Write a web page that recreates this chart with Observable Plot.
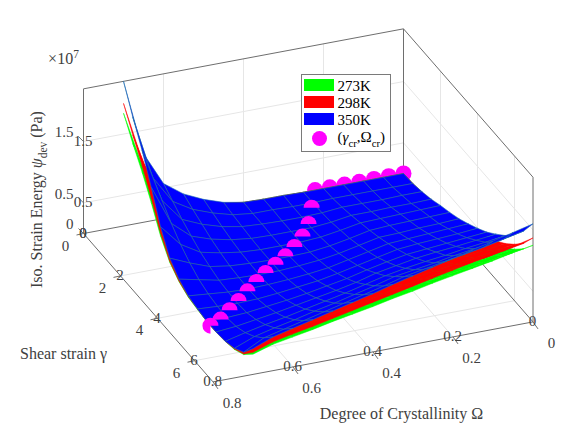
<!DOCTYPE html>
<html><head><meta charset="utf-8">
<style>html,body{margin:0;padding:0;background:#fff}svg{display:block}</style>
<script src="https://cdn.jsdelivr.net/npm/d3@7"></script>
<script src="https://cdn.jsdelivr.net/npm/@observablehq/plot@0.6"></script>
</head><body><div id="chart"></div>
<script>
// Shear strain (rows) and crystallinity (columns) of the surface grid
const gammaGrid = [0,.5,1,1.5,2,2.5,3,3.5,4,4.5,5,5.5,6,6.5,7];
const omegaGrid = [0,.05,.1,.15,.2,.25,.3,.35,.4,.45,.5,.55,.6,.65,.7];
// Iso. strain energy (×10^7 Pa)
const psi350 = [
[0,0,0,0,0,0,.01,.01,.02,.08,.19,.34,.57,1.12,2.36],
[.01,.01,.01,.01,.01,0,0,.01,.01,.05,.14,.26,.45,.9,1.95],
[.05,.05,.04,.04,.04,.01,0,0,.01,.03,.09,.19,.33,.7,1.58],
[.1,.09,.09,.08,.08,.03,0,0,0,.01,.05,.12,.23,.5,1.15],
[.17,.16,.15,.14,.13,.07,.02,0,0,0,.02,.07,.14,.33,.68],
[.23,.22,.21,.2,.18,.11,.05,.01,0,0,.01,.03,.08,.2,.34],
[.3,.28,.27,.25,.24,.17,.1,.05,.02,0,0,.01,.03,.1,.17],
[.39,.37,.35,.33,.31,.24,.17,.1,.06,.03,.01,0,.01,.04,.07],
[.49,.46,.44,.42,.39,.32,.25,.18,.12,.08,.04,.01,0,.01,.03],
[.6,.57,.54,.51,.48,.42,.35,.27,.21,.15,.1,.06,.02,0,0],
[.74,.7,.66,.63,.59,.53,.47,.38,.31,.25,.19,.13,.08,.03,0],
[.89,.84,.8,.75,.71,.66,.6,.52,.44,.37,.3,.23,.17,.1,.02],
[1.08,1.02,.97,.92,.86,.81,.76,.67,.59,.51,.44,.36,.29,.21,.08],
[1.31,1.24,1.17,1.11,1.05,.99,.93,.84,.76,.68,.6,.52,.44,.36,.19],
[1.6,1.52,1.44,1.36,1.28,1.2,1.12,1.04,.95,.87,.79,.71,.63,.55,.42]];
const psi298 = [
[0,0,0,0,0,0,.01,.01,.02,.07,.16,.29,.49,.95,2.0],
[.01,.01,.01,.01,.01,0,0,.01,.01,.04,.12,.22,.38,.77,1.66],
[.04,.04,.03,.03,.03,.01,0,0,.01,.03,.08,.16,.28,.6,1.34],
[.09,.08,.08,.07,.07,.03,0,0,0,.01,.04,.1,.2,.43,.98],
[.14,.14,.13,.12,.11,.06,.02,0,0,0,.02,.06,.12,.28,.58],
[.2,.19,.18,.17,.15,.09,.04,.01,0,0,.01,.03,.07,.17,.29],
[.26,.24,.23,.21,.2,.14,.09,.04,.02,0,0,.01,.03,.09,.14],
[.33,.31,.3,.28,.26,.2,.14,.09,.05,.03,.01,0,.01,.03,.06],
[.42,.39,.37,.36,.33,.27,.21,.15,.1,.07,.03,.01,0,.01,.03],
[.51,.48,.46,.43,.41,.36,.3,.23,.18,.13,.09,.05,.02,0,0],
[.63,.6,.56,.54,.5,.45,.4,.32,.26,.21,.16,.11,.07,.03,0],
[.76,.71,.68,.64,.6,.56,.51,.44,.37,.31,.26,.2,.14,.09,.02],
[.92,.87,.82,.78,.73,.69,.65,.57,.5,.43,.37,.31,.25,.18,.07],
[1.11,1.05,.99,.94,.89,.84,.79,.71,.65,.58,.51,.44,.37,.31,.16],
[1.37,1.29,1.22,1.16,1.09,1.02,.95,.88,.81,.74,.67,.6,.54,.47,.36]];
const psi273 = [
[0,0,0,0,0,0,.01,.01,.02,.06,.15,.27,.44,.87,1.84],
[.01,.01,.01,.01,.01,0,0,.01,.01,.04,.11,.2,.35,.7,1.52],
[.04,.04,.03,.03,.03,.01,0,0,.01,.02,.07,.15,.26,.55,1.23],
[.08,.07,.07,.06,.06,.02,0,0,0,.01,.04,.09,.18,.39,.9],
[.13,.12,.12,.11,.1,.05,.02,0,0,0,.02,.05,.11,.26,.53],
[.18,.17,.16,.16,.14,.09,.04,.01,0,0,.01,.02,.06,.16,.27],
[.23,.22,.21,.2,.19,.13,.08,.04,.02,0,0,.01,.02,.08,.13],
[.3,.29,.27,.26,.24,.19,.13,.08,.05,.02,.01,0,.01,.03,.05],
[.38,.36,.34,.33,.3,.25,.2,.14,.09,.06,.03,.01,0,.01,.02],
[.47,.44,.42,.4,.37,.33,.27,.21,.16,.12,.08,.05,.02,0,0],
[.58,.55,.51,.49,.46,.41,.37,.3,.24,.2,.15,.1,.06,.02,0],
[.69,.66,.62,.59,.55,.51,.47,.41,.34,.29,.23,.18,.13,.08,.02],
[.84,.8,.76,.72,.67,.63,.59,.52,.46,.4,.34,.28,.23,.16,.06],
[1.02,.97,.91,.87,.82,.77,.73,.66,.59,.53,.47,.41,.34,.28,.15],
[1.25,1.19,1.12,1.06,1.0,.94,.87,.81,.74,.68,.62,.55,.49,.43,.33]];
// Critical points (gamma_cr, Omega_cr)
const crGammaBack = [0,0,0,0,0,0,0];
const crOmegaBack = [0,.0368,.0737,.1105,.1474,.1842,.2211];
const crGamma = [.61,1.24,1.71,2.07,2.38,2.64,2.9,3.2,3.51,3.83,4.14,4.45];
const crOmega = [.2579,.2947,.3316,.3684,.4053,.4421,.4789,.5158,.5526,.5895,.6263,.6632];
const crGammaEnd = [4.7];
const crOmegaEnd = [.7];
// Axis ticks
const gammaTicks = [0,2,4,6];
const omegaTicks = [0,.2,.4,.6,.8];
const psiTicks = [0,.5,1.5];
const psiTickLabels = ["0","0.5","1.5"];
const gammaMax = 7, omegaMax = .8, psiMax = 2.36;
const legendNames = ["273K","298K","350K"];
const colors = {273:"#00ff00",298:"#ff0000",350:"#0000ff"};

// Orthographic 3D view of (gamma, omega, psi) on to the page
const P = (g,o,z)=>({x:83+18.5*g+400*(omegaMax-o), y:233+21.2*g-75*(omegaMax-o)-61.3*z});

function quads(t){
  const out=[]; let id=0;
  for(let i=0;i<gammaGrid.length-1;i++) for(let j=0;j<omegaGrid.length-1;j++){
    id++;
    [[i,j],[i,j+1],[i+1,j+1],[i+1,j],[i,j]].forEach(([a,b])=>out.push({id,...P(gammaGrid[a],omegaGrid[b],t[a][b])}));
  }
  return out;
}
const seg=(a,b)=>({x1:a.x,y1:a.y,x2:b.x,y2:b.y});
const grid=[];
for(const z of psiTicks.slice(1)){ grid.push(seg(P(0,omegaMax,z),P(0,0,z)),seg(P(0,0,z),P(gammaMax,0,z))); }
for(const o of omegaTicks.slice(1,4)){ grid.push(seg(P(0,o,0),P(0,o,psiMax)),seg(P(0,o,0),P(gammaMax,o,0))); }
for(const g of gammaTicks.slice(1)){ grid.push(seg(P(g,omegaMax,0),P(g,0,0)),seg(P(g,0,0),P(g,0,psiMax))); }
const box=[
 seg(P(0,omegaMax,psiMax),P(0,0,psiMax)),seg(P(0,0,psiMax),P(gammaMax,0,psiMax)),
 seg(P(0,omegaMax,0),P(0,omegaMax,psiMax)),seg(P(0,0,0),P(0,0,psiMax)),seg(P(gammaMax,0,0),P(gammaMax,0,psiMax)),
 seg(P(0,omegaMax,0),P(0,0,0)),seg(P(0,0,0),P(gammaMax,0,0)),
 seg(P(0,omegaMax,0),P(gammaMax,omegaMax,0)),seg(P(gammaMax,omegaMax,0),P(gammaMax,0,0))];
const ticks=[
 ...psiTicks.map(z=>{const p=P(0,omegaMax,z);return {x1:p.x,y1:p.y,x2:p.x-5,y2:p.y-5}}),
 ...gammaTicks.map(g=>{const p=P(g,omegaMax,0);return {x1:p.x,y1:p.y,x2:p.x-7,y2:p.y+1.5}}),
 ...omegaTicks.map(o=>{const p=P(gammaMax,o,0);return {x1:p.x,y1:p.y,x2:p.x+5,y2:p.y+7}})];
const tickLabels=[
 ...psiTicks.map((z,i)=>{const p=P(0,omegaMax,z);return {...p,t:psiTickLabels[i],dx:-10,dy:-9,a:"end"}}),
 ...gammaTicks.map(g=>{const p=P(g,omegaMax,0);return {...p,t:String(g),dx:-18,dy:g?12:13,a:"middle"}}),
 ...omegaTicks.map(o=>{const p=P(gammaMax,o,0);return {...p,t:String(o),dx:o==.8?19:18.5,dy:21,a:"middle"}})];

const halfDisc={draw(c,s){const r=Math.sqrt(s/Math.PI);c.moveTo(-r,0);c.arc(0,0,r,Math.PI,2*Math.PI);c.closePath();}};
const cutDisc={draw(c,s){const r=Math.sqrt(s/Math.PI);c.moveTo(0,0);c.lineTo(0,r);c.arc(0,0,r,Math.PI/2,2*Math.PI);c.closePath();}};
const pts=(gs,os)=>gs.map((g,i)=>P(g,os[i],0));
const font="Liberation Serif", ink="#404040";
const surf=(t,c,s,w)=>Plot.line(quads(t),{x:"x",y:"y",z:"id",fill:c,stroke:s,strokeWidth:w,curve:"linear"});
const label=(d,o={})=>Plot.text(d,{x:"x",y:"y",text:"t",fontFamily:font,fontSize:15,fill:ink,...o});

const chart=Plot.plot({
 width:581,height:436,margin:0,
 x:{domain:[0,581],range:[0,581],axis:null},
 y:{domain:[0,436],range:[0,436],axis:null},
 style:{background:"#fff",fontFamily:font},
 marks:[
  Plot.link(grid,{x1:"x1",y1:"y1",x2:"x2",y2:"y2",stroke:"#e6e6e6",strokeWidth:1}),
  Plot.link(box,{x1:"x1",y1:"y1",x2:"x2",y2:"y2",stroke:"#6e6e6e",strokeWidth:1}),
  Plot.link(ticks,{x1:"x1",y1:"y1",x2:"x2",y2:"y2",stroke:"#6e6e6e",strokeWidth:1}),
  Plot.dot(pts(crGammaBack,crOmegaBack),{x:"x",y:"y",r:8,fill:"#ff00ff"}),
  surf(psi273,colors[273],colors[273],.5),
  surf(psi298,colors[298],colors[298],.5),
  surf(psi350,colors[350],"#1f6fb0",.6),
  Plot.dot(pts(crGamma,crOmega),{x:"x",y:"y",dy:2,r:8,fill:"#ff00ff",symbol:halfDisc}),
  Plot.dot(pts(crGammaEnd,crOmegaEnd),{x:"x",y:"y",dy:0,r:8,fill:"#ff00ff",symbol:cutDisc}),
  Plot.text(tickLabels,{x:"x",y:"y",text:"t",dx:"dx",fontFamily:font,fontSize:15,fill:ink}),
  ...tickLabels.map(d=>Plot.text([d],{x:"x",y:"y",text:"t",dx:d.dx,dy:d.dy,textAnchor:d.a,fontFamily:font,fontSize:15,fill:ink})),
  label([{x:63,y:58,t:"×10^{7}"}],{fontSize:16}),
  label([{x:63,y:353,t:"Shear strain γ"}],{fontSize:16}),
  label([{x:401,y:413,t:"Degree of Crystallinity Ω"}],{fontSize:16}),
  label([{x:36,y:199,t:"Iso. Strain Energy ~{ψ}_{dev} (Pa)"}],{fontSize:16,rotate:-90}),
  // Legend
  Plot.rect([{x1:301.5,x2:390.5,y1:74.5,y2:151.5}],{x1:"x1",x2:"x2",y1:"y1",y2:"y2",fill:"#fff",stroke:"#7a7a7a",strokeWidth:1}),
  ...legendNames.map((n,i)=>Plot.rect([{x1:304,x2:334,y1:79+i*17,y2:91+i*17}],{x1:"x1",x2:"x2",y1:"y1",y2:"y2",fill:Object.values(colors)[i]})),
  Plot.text(legendNames.map((t,i)=>({t,x:337,y:85.5+i*17})),{x:"x",y:"y",text:"t",textAnchor:"start",fontFamily:font,fontSize:15,fill:"#000"}),
  Plot.dot([{x:319,y:138}],{x:"x",y:"y",r:7.5,fill:"#ff00ff"}),
  Plot.text([{x:337,y:137,t:"(~{γ}_{cr},Ω_{cr})"}],{x:"x",y:"y",text:"t",textAnchor:"start",fontFamily:font,fontSize:15,fill:"#000"})
 ]});

// Rebuild marked labels with real sub/superscript and italic text
d3.select(chart).selectAll("text").each(function(){
  const s=this.textContent; if(!/[_^~]\{/.test(s)) return;
  const el=d3.select(this); el.text(null);
  let shift=0;
  s.split(/([_^~]\{[^}]*\})/).filter(Boolean).forEach(part=>{
    const m=part.match(/^([_^~])\{([^}]*)\}$/);
    const span=el.append("tspan");
    if(m&&m[1]==="~"){span.text(m[2]).attr("font-style","italic"); if(shift)span.attr("dy",-shift); shift=0; return;}
    if(m){const d=m[1]==="_"?5:-6; span.text(m[2]).attr("font-size","72%").attr("dy",d-shift); shift=d; return;}
    span.text(part); if(shift)span.attr("dy",-shift); shift=0;
  });
});
document.getElementById("chart").append(chart);
</script></body></html>
